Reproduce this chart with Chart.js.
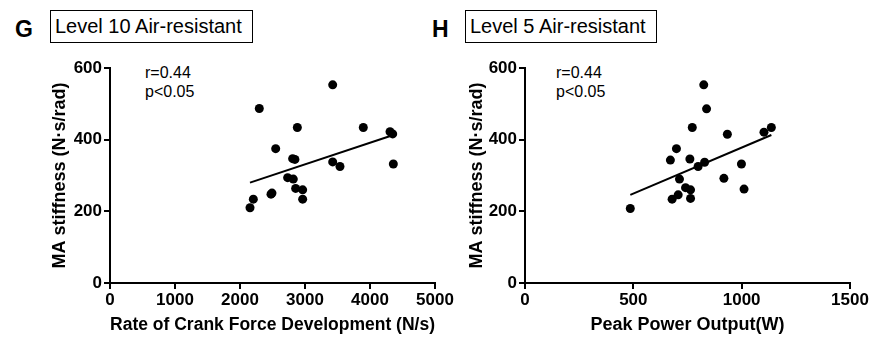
<!DOCTYPE html>
<html>
<head>
<meta charset="utf-8">
<script src="https://cdn.jsdelivr.net/npm/chart.js@4"></script>
<style>
    body { margin: 0; width: 870px; height: 338px; background: #fff; position: relative; overflow: hidden; font-family: "Liberation Sans", Arial, sans-serif; }
    canvas { position: absolute; }
    .panel { position: absolute; font-weight: bold; font-size: 23px; line-height: 23px; }
    .box { position: absolute; border: 1px solid #000; font-size: 20px; line-height: 30px; padding: 0 4px; box-sizing: border-box; height: 33px; white-space: nowrap; }
    .stat { position: absolute; font-size: 16px; line-height: 19px; }
</style>
</head>
<body>
<div class="panel" style="left:15px; top:18px;">G</div>
<div class="box" style="left:50px; top:10px; width:203px;">Level 10 Air-resistant</div>
<div class="stat" style="left:145px; top:63px;">r=0.44<br>p&lt;0.05</div>

<div class="panel" style="left:432px; top:18px;">H</div>
<div class="box" style="left:465px; top:10px; width:192px;">Level 5 Air-resistant</div>
<div class="stat" style="left:556px; top:63px;">r=0.44<br>p&lt;0.05</div>

<canvas id="chartG" width="460" height="288" style="left:0; top:50px;"></canvas>
<canvas id="chartH" width="430" height="288" style="left:440px; top:50px;"></canvas>

<script>
// Panel G: rate of crank force development vs MA stiffness
const gForce = [2154, 2205, 2297, 2477, 2492, 2549, 2810, 2845, 2882, 2733, 2820, 2856, 2964, 2964, 3426, 3426, 3538, 3897, 4308, 4349, 4359];
const gStiffness = [210, 234, 487, 248, 251, 375, 347, 345, 434, 294, 290, 264, 260, 234, 553, 338, 325, 434, 422, 416, 332];
const gFitX = [2154, 4359];
const gFitY = [280, 413];

// Panel H: peak power output vs MA stiffness
const hPower = [486, 671, 699, 679, 707, 713, 741, 761, 764, 764, 772, 799, 829, 825, 838, 918, 934, 999, 1011, 1103, 1137];
const hStiffness = [208, 343, 375, 234, 246, 290, 266, 346, 260, 236, 434, 325, 337, 553, 486, 292, 415, 332, 262, 421, 434];
const hFitX = [486, 1137];
const hFitY = [246, 413];

const yTicks = [0, 200, 400, 600];
const gXTicks = [0, 1000, 2000, 3000, 4000, 5000];
const hXTicks = [0, 500, 1000, 1500];

const yTitle = 'MA stiffness (N\u00b7s/rad)';
const FONT = '"Liberation Sans", Arial, sans-serif';

function toPoints(xs, ys) {
    return xs.map((x, i) => ({ x: x, y: ys[i] }));
}

function axisStyle() {
    return {
        grid: { display: true, drawOnChartArea: false, drawTicks: true, tickLength: 6, color: '#000', tickColor: '#000', lineWidth: 2, tickWidth: 2 },
        border: { display: true, color: '#000', width: 2 }
    };
}

function makeChart(id, xs, ys, fitX, fitY, xTicks, xTitle, pad, yWidth) {
    const xMax = xTicks[xTicks.length - 1];
    const yMax = yTicks[yTicks.length - 1];
    return new Chart(document.getElementById(id), {
        type: 'scatter',
        data: {
            datasets: [
                {
                    data: toPoints(xs, ys),
                    backgroundColor: '#000',
                    borderWidth: 0,
                    pointRadius: 4.5
                },
                {
                    data: toPoints(fitX, fitY),
                    showLine: true,
                    borderColor: '#000',
                    borderWidth: 2,
                    pointRadius: 0
                }
            ]
        },
        options: {
            responsive: false,
            animation: false,
            events: [],
            layout: { padding: pad },
            plugins: { legend: { display: false }, tooltip: { enabled: false } },
            scales: {
                x: {
                    type: 'linear',
                    min: 0,
                    max: xMax,
                    afterBuildTicks: axis => { axis.ticks = xTicks.map(v => ({ value: v })); },
                    ticks: { color: '#000', padding: 1, maxRotation: 0, callback: v => String(v), font: { family: FONT, size: 17, weight: 'bold' } },
                    title: { display: true, text: xTitle, color: '#000', padding: { top: 0, bottom: 2 }, font: { family: FONT, size: 18, weight: 'bold' } },
                    afterFit: scale => { scale.height = 55; },
                    ...axisStyle()
                },
                y: {
                    type: 'linear',
                    min: 0,
                    max: yMax,
                    afterBuildTicks: axis => { axis.ticks = yTicks.map(v => ({ value: v })); },
                    ticks: { color: '#000', padding: 2, callback: v => String(v), font: { family: FONT, size: 17, weight: 'bold' } },
                    title: { display: true, text: yTitle, color: '#000', padding: { top: 4, bottom: 0 }, font: { family: FONT, size: 18, weight: 'bold' } },
                    afterFit: scale => { scale.width = yWidth; },
                    ...axisStyle()
                }
            }
        }
    });
}

makeChart('chartG', gForce, gStiffness, gFitX, gFitY, gXTicks, 'Rate of Crank Force Development (N/s)',
    { left: 45, top: 18, right: 25, bottom: 0 }, 65);
makeChart('chartH', hPower, hStiffness, hFitX, hFitY, hXTicks, 'Peak Power Output(W)',
    { left: 22, top: 18, right: 20, bottom: 0 }, 63);
</script>
</body>
</html>
